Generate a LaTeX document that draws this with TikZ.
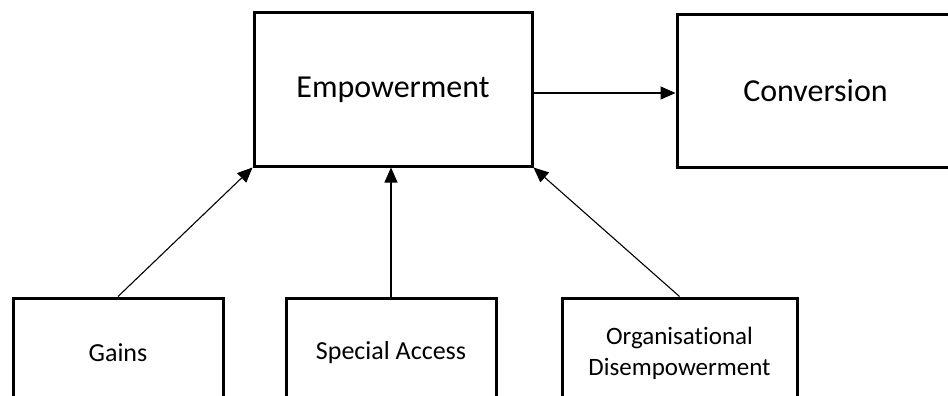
\documentclass[tikz,border=0pt]{standalone}
\usepackage{fontspec}
\setmainfont{Carlito}[Ligatures={NoCommon}]
\usetikzlibrary{arrows.meta}
\begin{document}
\begin{tikzpicture}[x=1pt,y=-1pt,
  box/.style={draw=black,line width=3pt,fill=white,inner sep=0pt,align=center},
  link/.style={line width=1.1pt,-{Triangle[length=15pt,width=13pt]}}]
  \useasboundingbox (0,0) rectangle (948,396);
  \clip (0,0) rectangle (948,396);
  % upper row
  \node[box,minimum width=278pt,minimum height=153pt,font=\fontsize{32}{38}\selectfont]
    (emp) at (393,89.5) {Empowerment};
  \node[box,minimum width=277pt,minimum height=152pt,font=\fontsize{32}{38}\selectfont]
    (conv) at (815.5,91) {Conversion};
  % lower row (boxes run past the lower edge)
  \node[box,minimum width=210pt,minimum height=110pt,font=\fontsize{26}{31}\selectfont]
    (gains) at (118,353) {Gains};
  \node[box,minimum width=210pt,minimum height=110pt,font=\fontsize{26}{31}\selectfont]
    (access) at (391,353) {Special Access};
  \node[box,minimum width=235pt,minimum height=110pt,font=\fontsize{25}{31}\selectfont]
    (org) at (679.5,353) {Organisational\\Disempowerment};
  % connectors
  \draw[link] (emp.east |- 0,93) -- (conv.west |- 0,93);
  \draw[link] (gains.north) -- (emp.south west);
  \draw[link] (access.north) -- (access.north |- emp.south);
  \draw[link] (org.north) -- (emp.south east);
\end{tikzpicture}
\end{document}
